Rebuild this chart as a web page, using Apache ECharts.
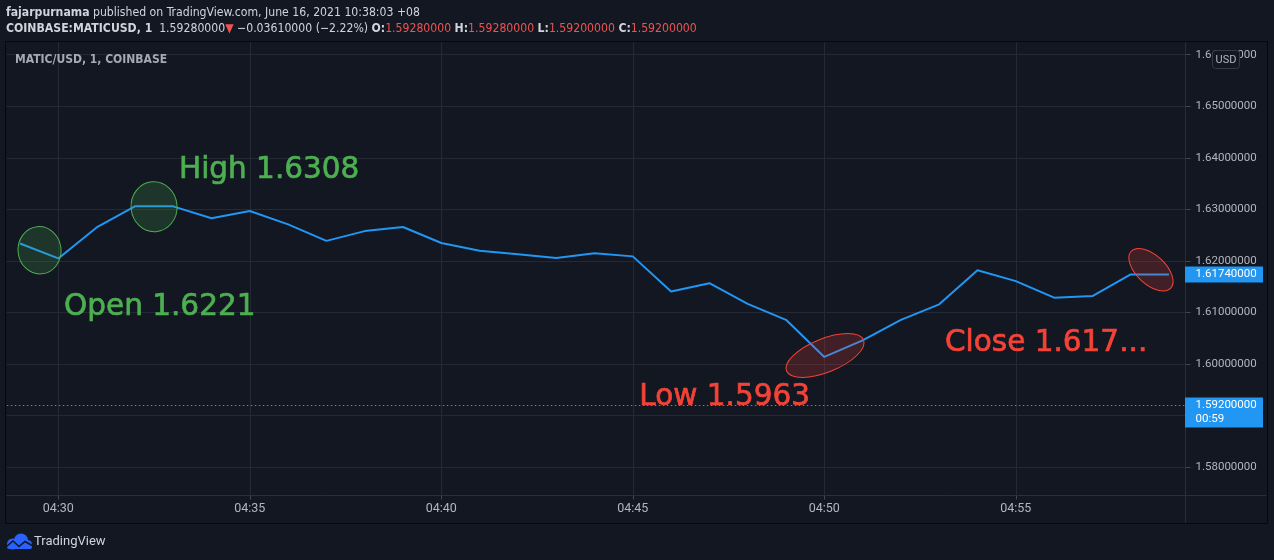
<!DOCTYPE html>
<html>
<head>
<meta charset="utf-8">
<script src="https://cdn.jsdelivr.net/npm/echarts@6/dist/echarts.min.js"></script>
<style>
html,body{margin:0;padding:0;background:#131722;overflow:hidden;}
#c{width:1274px;height:560px;}
</style>
</head>
<body>
<div id="c"></div>
<script>
// ---------------- data ----------------
const times = ['04:29','04:30','04:31','04:32','04:33','04:34','04:35','04:36','04:37','04:38',
  '04:39','04:40','04:41','04:42','04:43','04:44','04:45','04:46','04:47','04:48',
  '04:49','04:50','04:51','04:52','04:53','04:54','04:55','04:56','04:57','04:58','04:59'];
const closes = [1.6234,1.6205,1.6265,1.6306,1.6306,1.6283,1.6297,1.6271,1.6239,1.6258,
  1.6266,1.6235,1.6220,1.6213,1.6206,1.6215,1.6209,1.6141,1.6157,1.6117,
  1.6086,1.6014,1.6046,1.6086,1.6116,1.6182,1.6161,1.6129,1.6132,1.6174,1.6174];
const priceTicks = {min:1.57, max:1.67, step:0.01};
const timeTicks = {min:25, max:65, step:5};          // minutes past 04:00
const livePrice = 1.592;
const liveCountdown = '00:59';
// annotation anchors (time in minutes past 04:00, price)
const annoTexts = [
  {text:'High 1.6308',    color:'green', t:33.15, p:1.63765},
  {text:'Open 1.6221',    color:'green', t:30.15, p:1.61100},
  {text:'Low 1.5963',     color:'red',   t:45.17, p:1.59350},
  {text:'Close 1.617...', color:'red',   t:53.15, p:1.60400}
];
const annoEllipses = [
  {t:29.51, p:1.62208, color:'green'},
  {t:32.50, p:1.63053, color:'green'},
  {t:50.02, p:1.60168, color:'red'},
  {t:58.53, p:1.61832, color:'red'}
];
const ellipseShapes = [
  {rx:21.5, ry:23.7, rot:0.10},
  {rx:23,   ry:25,   rot:0.08},
  {rx:41.5, ry:16.8, rot:0.384},
  {rx:27,   ry:14.5, rot:-0.75}
];
const header1 = {user:'fajarpurnama', rest:' published on TradingView.com, June 16, 2021 10:38:03 +08'};
const header2 = {sym:'COINBASE:MATICUSD, 1', last:'1.59280000', chg:' \u22120.03610000 (\u22122.22%) ',
  ohlc:[['O:','1.59280000'],['H:','1.59280000'],['L:','1.59200000'],['C:','1.59200000']]};
const paneTitle = 'MATIC/USD, 1, COINBASE';

// ---------------- style ----------------
const BG = '#131722';
const GRIDC = '#252935';
const AXTXT = '#b2b5be';
const BLUE = '#2196f3';
const COL = {
  green:{stroke:'#4caf50', fill:'rgba(76,175,80,0.2)', text:'#4caf50'},
  red:{stroke:'#f44336', fill:'rgba(244,67,54,0.2)', text:'#f44336'}
};
const UIFONT = "Roboto, 'Liberation Sans', sans-serif";
const HFONT = "'Liberation Sans Narrow', 'DejaVu Sans Condensed', Roboto, sans-serif";
const ANNOFONT = "'DejaVu Sans', Verdana, sans-serif";
// pane geometry
const PANE = {l:6.5, t:42.5, r:1267.5, b:523.5, axisX:1185.5, axisY:495.5};

const minutes = times.map(t => parseInt(t.split(':')[1], 10));
const fmtTime = v => '04:' + String(v).padStart(2, '0');

const chart = echarts.init(document.getElementById('c'), null, {renderer:'canvas'});

const gridCfg = {left:-133.2, right:-124.8, top:3.16, bottom:41.13, containLabel:false, outerBoundsMode:'none'};

chart.setOption({
  animation:false,
  backgroundColor:BG,
  grid:gridCfg,
  xAxis:[
    {type:'value', min:timeTicks.min, max:timeTicks.max, interval:timeTicks.step,
     axisLine:{show:false}, axisTick:{show:false}, axisLabel:{show:false},
     splitLine:{show:true, lineStyle:{color:GRIDC, width:1}}},
    {type:'value', position:'bottom', offset:-23.4, z:10,
     min:timeTicks.min, max:timeTicks.max, interval:timeTicks.step,
     axisLine:{show:false},
     axisTick:{show:true, length:4, lineStyle:{color:'#434651'}},
     axisLabel:{show:true, margin:7, color:AXTXT, fontSize:12.5, fontFamily:UIFONT,
       formatter:v => (v >= 30 && v <= 55) ? fmtTime(v) : ''},
     splitLine:{show:false}}
  ],
  yAxis:[
    {type:'value', position:'right', min:priceTicks.min, max:priceTicks.max, interval:priceTicks.step,
     axisLine:{show:false}, axisTick:{show:false}, axisLabel:{show:false},
     splitLine:{show:true, lineStyle:{color:GRIDC, width:1}}},
    {type:'value', position:'right', offset:-213.3, z:10,
     min:priceTicks.min, max:priceTicks.max, interval:priceTicks.step,
     axisLine:{show:false},
     axisTick:{show:true, length:5, lineStyle:{color:'#434651'}},
     axisLabel:{show:true, margin:10, color:AXTXT, fontSize:11.5, fontFamily:UIFONT,
       formatter:v => (v > 1.575 && v < 1.665) ? v.toFixed(8) : ''},
     splitLine:{show:false}}
  ],
  series:[{
    type:'line', xAxisIndex:0, yAxisIndex:0, z:2,
    data:minutes.map((m, i) => [m, closes[i]]),
    symbol:'none', showSymbol:false,
    lineStyle:{color:BLUE, width:2},
    markLine:{silent:true, symbol:'none', animation:false, precision:8,
      label:{show:false},
      lineStyle:{color:BLUE, type:[1.5,2.5], width:1},
      data:[{yAxis:livePrice}]}
  }]
});

const px = (t, p) => chart.convertToPixel({seriesIndex:0}, [t, p]);
const g = [];
// covers outside the pane
const cover = (x, y, w, h, z) => g.push({type:'rect', silent:true, z:z, shape:{x:x, y:y, width:w, height:h}, style:{fill:BG}});
cover(0, 0, 1274, PANE.t - 0.5, 15);
cover(0, 0, PANE.l, 560, 15);
cover(PANE.r - 0.5, 0, 1274 - PANE.r + 0.5, 560, 15);
cover(PANE.axisX, PANE.t, PANE.r - PANE.axisX, PANE.axisY - PANE.t, 5);
cover(0, PANE.axisY, 1274, 560 - PANE.axisY, 5);
cover(PANE.axisX + 0.5, PANE.axisY + 0.5, PANE.r - PANE.axisX - 1, PANE.b - PANE.axisY - 1, 15);
cover(0, PANE.b, 1274, 560 - PANE.b, 15);
// pane frame + separators
g.push({type:'rect', silent:true, z:16, shape:{x:PANE.l - 1, y:PANE.t - 1, width:PANE.r - PANE.l + 1, height:PANE.b - PANE.t + 1},
  style:{fill:'none', stroke:'#06080c', lineWidth:1}});
g.push({type:'line', silent:true, z:16, shape:{x1:PANE.l, y1:PANE.axisY, x2:PANE.r - 1, y2:PANE.axisY}, style:{stroke:'#2a2e39', lineWidth:1}});
g.push({type:'line', silent:true, z:16, shape:{x1:PANE.axisX, y1:PANE.t, x2:PANE.axisX, y2:PANE.b - 1}, style:{stroke:'#2a2e39', lineWidth:1}});

// last close badge
const lastClose = closes[closes.length - 1];
const yc = px(minutes[minutes.length - 1], lastClose)[1];
g.push({type:'rect', silent:true, z:20, shape:{x:PANE.axisX - 0.5, y:yc - 8, width:78, height:16}, style:{fill:BLUE}});
g.push({type:'text', silent:true, z:21, x:1195.5, y:yc, style:{text:lastClose.toFixed(8), fill:'#ffffff', fontSize:11.5, fontFamily:UIFONT, verticalAlign:'middle'}});
// live price badge
const yl = px(minutes[0], livePrice)[1];
g.push({type:'rect', silent:true, z:20, shape:{x:PANE.axisX - 0.5, y:yl - 8, width:78, height:30}, style:{fill:BLUE}});
g.push({type:'text', silent:true, z:21, x:1195.5, y:yl, style:{text:livePrice.toFixed(8), fill:'#ffffff', fontSize:11.5, fontFamily:UIFONT, verticalAlign:'middle'}});
g.push({type:'text', silent:true, z:21, x:1195.5, y:yl + 14, style:{text:liveCountdown, fill:'#ffffff', fontSize:11.5, fontFamily:UIFONT, verticalAlign:'middle'}});
// USD badge
g.push({type:'rect', silent:true, z:20, shape:{x:1212.5, y:50.5, width:27, height:18, r:3}, style:{fill:BG, stroke:'#363a45', lineWidth:1}});
g.push({type:'text', silent:true, z:21, x:1226, y:60, style:{text:'USD', fill:AXTXT, fontSize:11, fontFamily:UIFONT, align:'center', verticalAlign:'middle'}});

// annotations
annoEllipses.forEach((e, i) => {
  const c = px(e.t, e.p), s = ellipseShapes[i];
  g.push({type:'ellipse', silent:true, z:19, x:c[0], y:c[1], rotation:s.rot,
    shape:{cx:0, cy:0, rx:s.rx, ry:s.ry},
    style:{fill:COL[e.color].fill, stroke:COL[e.color].stroke, lineWidth:1}});
});
annoTexts.forEach(a => {
  const c = px(a.t, a.p);
  g.push({type:'text', silent:true, z:21, x:c[0], y:c[1],
    style:{text:a.text, fill:COL[a.color].text, stroke:COL[a.color].text, lineWidth:0.7,
      fontSize:29.5, fontFamily:ANNOFONT, verticalAlign:'middle'}});
});

// header
const hs = (w, col) => ({fontSize:12.15, fontFamily:HFONT, fontWeight:w, fill:col});
g.push({type:'text', silent:true, z:21, x:6, y:13, style:{
  text:'{b|' + header1.user + '}{n|' + header1.rest + '}',
  rich:{b:hs('bold', '#d1d4dc'), n:hs('normal', '#d1d4dc')}, verticalAlign:'middle'}});
let h2 = '{b|' + header2.sym + '}{n|  ' + header2.last + '}{r|\u25BC}{n|' + header2.chg + '}';
header2.ohlc.forEach((o, i) => { h2 += '{b|' + o[0] + '}{r|' + o[1] + '}' + (i < 3 ? '{n| }' : ''); });
g.push({type:'text', silent:true, z:21, x:6, y:29, style:{
  text:h2, rich:{b:hs('bold', '#d1d4dc'), n:hs('normal', '#d1d4dc'), r:hs('normal', '#ef5350')}, verticalAlign:'middle'}});
// pane title
g.push({type:'text', silent:true, z:21, x:15, y:60, style:{text:paneTitle, fill:'#a6a9b2', fontSize:12, fontWeight:600, fontFamily:HFONT, verticalAlign:'middle'}});

// TradingView logo
g.push({type:'group', silent:true, z:21, children:[
  {type:'circle', z:21, shape:{cx:12.5, cy:544, r:5.5}, style:{fill:'#2962ff'}},
  {type:'circle', z:21, shape:{cx:21, cy:540.5, r:7}, style:{fill:'#2962ff'}},
  {type:'circle', z:21, shape:{cx:27.5, cy:544.5, r:4.5}, style:{fill:'#2962ff'}},
  {type:'rect', z:21, shape:{x:7, y:544, width:25, height:5, r:2}, style:{fill:'#2962ff'}},
  {type:'polyline', z:22, shape:{points:[[6,547],[13,541],[19,546.5],[25,541.5],[33,546]]}, style:{stroke:BG, lineWidth:1.6, fill:'none'}}
]});
g.push({type:'text', silent:true, z:21, x:34, y:541.5, style:{text:'TradingView', fill:'#d1d4dc', fontSize:13, fontFamily:UIFONT, verticalAlign:'middle'}});

chart.setOption({graphic:{elements:g}});
</script>
</body>
</html>
